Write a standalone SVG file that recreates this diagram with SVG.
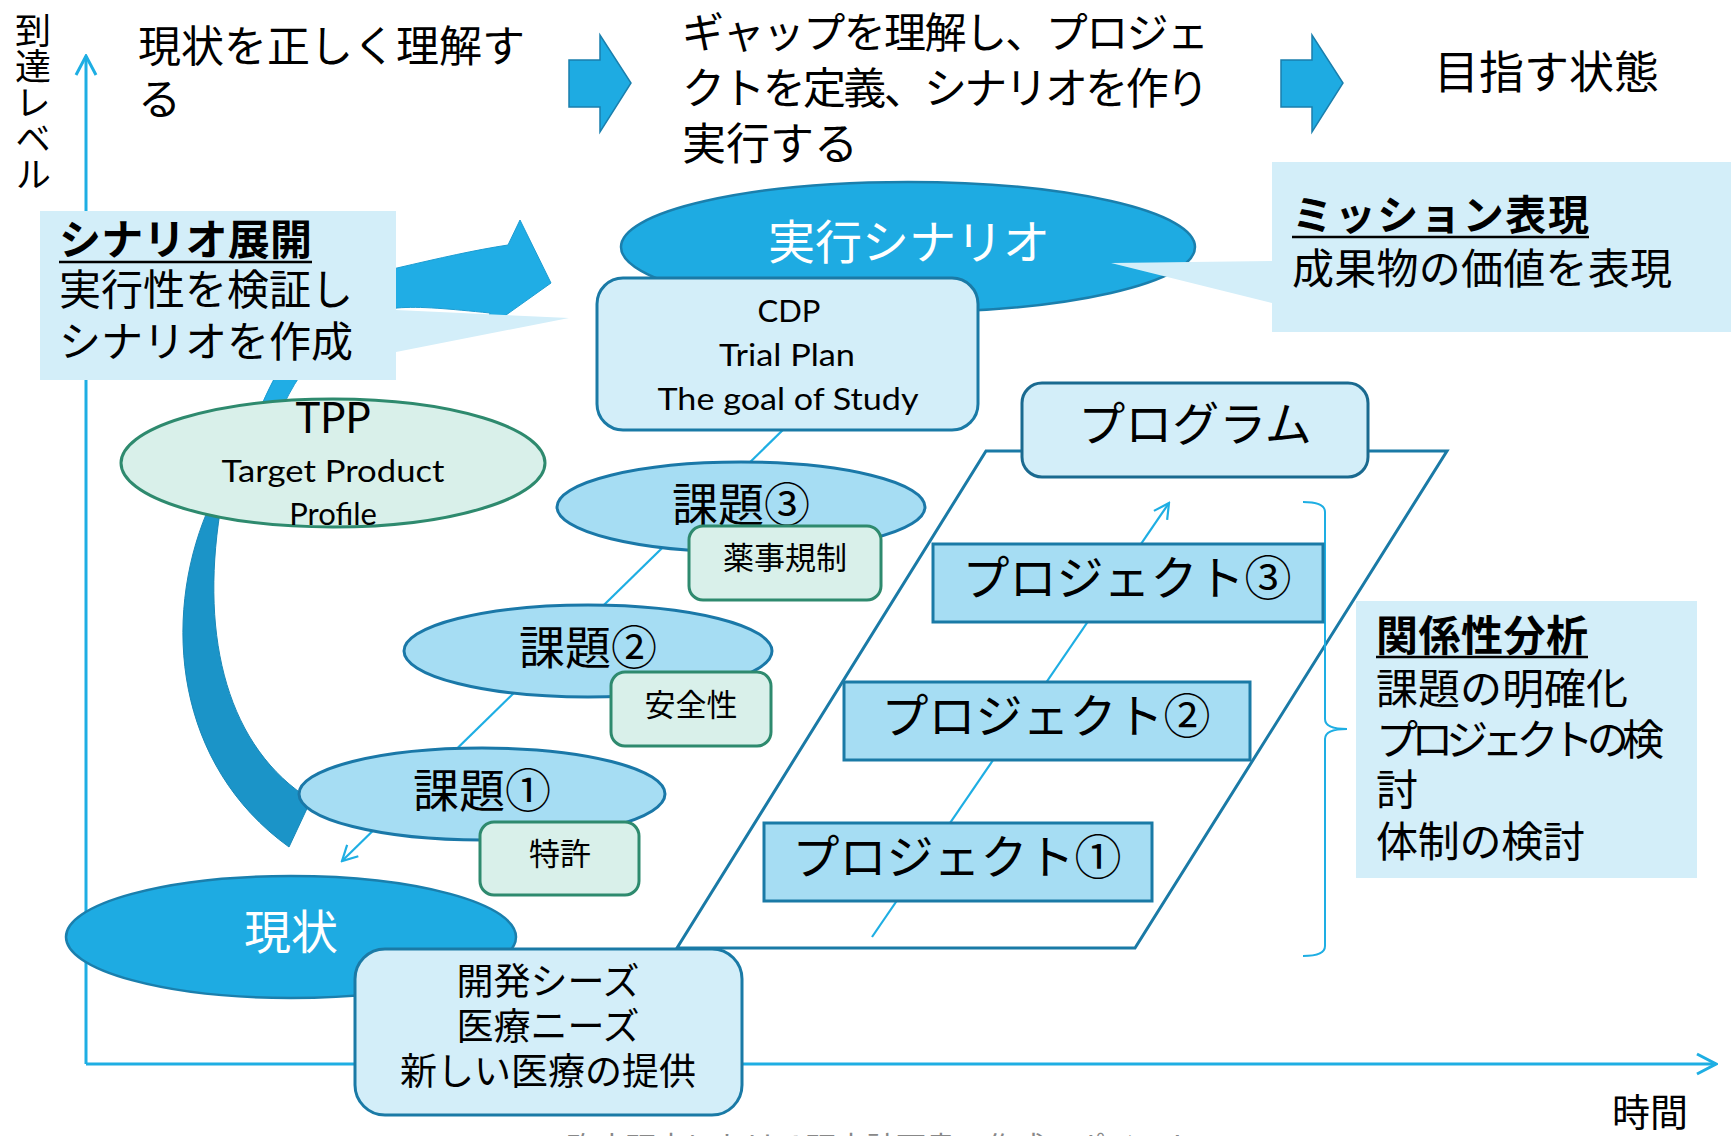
<svg xmlns="http://www.w3.org/2000/svg" width="1731" height="1136" viewBox="0 0 1731 1136">
<defs>
<style>
.j{font-family:"Noto Sans CJK JP","Noto Sans",sans-serif;fill:#000}
.l{font-family:Lato,"Open Sans","Liberation Sans",sans-serif;fill:#000}
.c{text-anchor:middle}
.w{fill:#fff}
.b{font-weight:bold}
.axis{stroke:#1EAEE3;stroke-width:3;fill:none}
.conn{stroke:#1EAEE3;stroke-width:2.2;fill:none}
.callout{fill:#D3EEF9}
.dell{fill:#1EABE2;stroke:#1A7FAD;stroke-width:2.5}
.issue{fill:#A6DDF3;stroke:#1A78A8;stroke-width:3}
.tag{fill:#D9F0EA;stroke:#2E8A6E;stroke-width:3}
.box{fill:#D3EEF9;stroke:#1A7AA6;stroke-width:3}
.proj{fill:#A6DDF3;stroke:#1A7AA6;stroke-width:3}
.ul{stroke:#000;stroke-width:2.5}
.blk{fill:#1EABE2;stroke:#1A7FAD;stroke-width:1.5}
</style>
<marker id="ah" viewBox="-22 -12 24 24" refX="0" refY="0" markerWidth="24" markerHeight="24" markerUnits="userSpaceOnUse" orient="auto">
<path d="M-19 -10 L0 0 L-19 10" fill="none" stroke="#1EAEE3" stroke-width="3"/>
</marker>
<marker id="ac" viewBox="-18 -10 20 20" refX="0" refY="0" markerWidth="20" markerHeight="20" markerUnits="userSpaceOnUse" orient="auto">
<path d="M-15 -8 L0 0 L-15 8" fill="none" stroke="#1EAEE3" stroke-width="2.2"/>
</marker>
</defs>
<rect width="1731" height="1136" fill="#fff"/>

<g id="axes">
<line class="axis" x1="86" y1="1064" x2="86" y2="56" marker-end="url(#ah)"/>
<line class="axis" x1="86" y1="1064" x2="1716" y2="1064" marker-end="url(#ah)"/>
<text class="j" font-size="36" x="33" y="12" writing-mode="vertical-rl" style="writing-mode:vertical-rl">到達レベル</text>
<text class="j" font-size="38" x="1612" y="1126">時間</text>
</g>

<g id="header">
<text class="j" font-size="43" x="138" y="62">現状を正しく理解す</text>
<text class="j" font-size="43" x="138" y="115">る</text>
<polygon class="blk" points="569,60 600,60 600,35 631,83 600,132 600,107 569,107"/>
<text class="j" font-size="42" x="682" y="48" textLength="527" lengthAdjust="spacing">ギャップを理解し、プロジェ</text>
<text class="j" font-size="43" x="682" y="104" textLength="527" lengthAdjust="spacing">クトを定義、シナリオを作り</text>
<text class="j" font-size="44" x="682" y="160">実行する</text>
<polygon class="blk" points="1281,60 1312,60 1312,35 1343,83 1312,132 1312,107 1281,107"/>
<text class="j" font-size="45" x="1434" y="89">目指す状態</text>
</g>

<g id="program-frame">
<polygon points="986,451 1447,451 1135,948 677,948" fill="none" stroke="#1A7AA6" stroke-width="3"/>
</g>

<g id="connectors">
<line class="conn" x1="790" y1="423" x2="342" y2="861" marker-end="url(#ac)"/>
<line class="conn" x1="872" y1="937" x2="1169" y2="503" marker-end="url(#ac)"/>
<path id="arrow-tpp-scenario" d="M262 404 C300 320 340 282 397 268 C440 258 475 250 508 245 L520 220 L551 283 L485 330 L490 313 C450 309 420 306 397 308 C350 315 310 350 284 404 Z" fill="#20ADE5" stroke="#1C9CD2" stroke-width="1"/>
<path id="arrow-tpp-issue" d="M207 512 C162 620 175 765 289 847 L311 800 C228 748 200 640 220 512 Z" fill="#1B94C8" stroke="#1A88B8" stroke-width="1"/>
<path id="brace" d="M1303 502 Q1325 502 1325 512 L1325 719 Q1325 729 1347 729 Q1325 729 1325 739 L1325 946 Q1325 956 1303 956" fill="none" stroke="#1EAEE3" stroke-width="2"/>
</g>

<g id="scenario">
<ellipse class="dell" cx="908" cy="247" rx="287" ry="65"/>
<text class="j w c" font-size="47" x="909" y="259">実行シナリオ</text>
</g>

<g id="mission-callout">
<path class="callout" d="M1272 162 H1731 V332 H1272 V303 L1111 263 L1272 261 Z"/>
<text class="j b" font-size="41" x="1292" y="230" textLength="297" lengthAdjust="spacing">ミッション表現</text>
<line class="ul" x1="1292" y1="237" x2="1589" y2="237"/>
<text class="j" font-size="42" x="1292" y="284" textLength="380" lengthAdjust="spacing">成果物の価値を表現</text>
</g>

<g id="scenario-callout">
<path class="callout" d="M40 211 H396 V310 L569 318 L396 352 V380 H40 Z"/>
<text class="j b" font-size="42" x="59" y="255" textLength="253" lengthAdjust="spacing">シナリオ展開</text>
<line class="ul" x1="59" y1="262" x2="312" y2="262"/>
<text class="j" font-size="42" x="59" y="305" textLength="294" lengthAdjust="spacing">実行性を検証し</text>
<text class="j" font-size="42" x="59" y="357" textLength="294" lengthAdjust="spacing">シナリオを作成</text>
</g>

<g id="cdp">
<rect class="box" x="597" y="278" width="381" height="152" rx="26"/>
<text class="l c" font-size="31" x="789" y="322">CDP</text>
<text class="l c" font-size="31" x="787" y="366" textLength="136" lengthAdjust="spacingAndGlyphs">Trial Plan</text>
<text class="l c" font-size="31" x="788" y="410" textLength="261" lengthAdjust="spacingAndGlyphs">The goal of Study</text>
</g>

<g id="tpp">
<ellipse cx="333" cy="463" rx="212" ry="64" fill="#D9F0EA" stroke="#2E8A6E" stroke-width="3"/>
<text class="l c" font-size="42" x="333" y="433">TPP</text>
<text class="l c" font-size="31" x="333" y="482" textLength="223" lengthAdjust="spacingAndGlyphs">Target Product</text>
<text class="l c" font-size="31" x="333" y="525">Profile</text>
</g>

<g id="issue3">
<ellipse class="issue" cx="741" cy="507" rx="184" ry="45"/>
<text class="j c" font-size="46" x="741" y="521">課題③</text>
</g>
<g id="tag3">
<rect class="tag" x="689" y="526" width="192" height="74" rx="14"/>
<text class="j c" font-size="31" x="785" y="569">薬事規制</text>
</g>

<g id="issue2">
<ellipse class="issue" cx="588" cy="651" rx="184" ry="46"/>
<text class="j c" font-size="46" x="588" y="664">課題②</text>
</g>
<g id="tag2">
<rect class="tag" x="611" y="672" width="160" height="74" rx="14"/>
<text class="j c" font-size="31" x="691" y="716">安全性</text>
</g>

<g id="issue1">
<ellipse class="issue" cx="482" cy="794" rx="183" ry="46"/>
<text class="j c" font-size="46" x="482" y="807">課題①</text>
</g>
<g id="tag1">
<rect class="tag" x="480" y="822" width="159" height="73" rx="14"/>
<text class="j c" font-size="31" x="560" y="865">特許</text>
</g>

<g id="current">
<ellipse class="dell" cx="291" cy="937" rx="225" ry="61"/>
<text class="j w c" font-size="47" x="291" y="949">現状</text>
</g>

<g id="seeds">
<rect class="box" x="355" y="949" width="387" height="166" rx="30"/>
<text class="j c" font-size="37" x="548" y="995">開発シーズ</text>
<text class="j c" font-size="37" x="548" y="1040">医療ニーズ</text>
<text class="j c" font-size="37" x="548" y="1085">新しい医療の提供</text>
</g>

<g id="program">
<rect x="1022" y="383" width="346" height="94" rx="20" fill="#D3EEF9" stroke="#1A6A90" stroke-width="3"/>
<text class="j c" font-size="47" x="1195" y="441">プログラム</text>
</g>

<g id="project3">
<rect class="proj" x="933" y="544" width="390" height="78"/>
<text class="j c" font-size="47" x="1127" y="595">プロジェクト③</text>
</g>
<g id="project2">
<rect class="proj" x="844" y="682" width="406" height="78"/>
<text class="j c" font-size="47" x="1046" y="733">プロジェクト②</text>
</g>
<g id="project1">
<rect class="proj" x="764" y="823" width="388" height="78"/>
<text class="j c" font-size="47" x="957" y="874">プロジェクト①</text>
</g>

<g id="relation-callout">
<rect class="callout" x="1356" y="601" width="341" height="277"/>
<text class="j b" font-size="42" x="1376" y="651" textLength="212" lengthAdjust="spacing">関係性分析</text>
<line class="ul" x1="1376" y1="657" x2="1588" y2="657"/>
<text class="j" font-size="42" x="1376" y="704" textLength="252" lengthAdjust="spacing">課題の明確化</text>
<text class="j" font-size="42" x="1376" y="755" textLength="288" lengthAdjust="spacing">プロジェクトの検</text>
<text class="j" font-size="42" x="1376" y="805">討</text>
<text class="j" font-size="42" x="1376" y="857" textLength="209" lengthAdjust="spacing">体制の検討</text>
</g>

<g id="footer">
<text class="j" font-size="30" x="566" y="1158" style="fill:#888">臨床研究における研究計画書の作成のポイント</text>
</g>
</svg>
